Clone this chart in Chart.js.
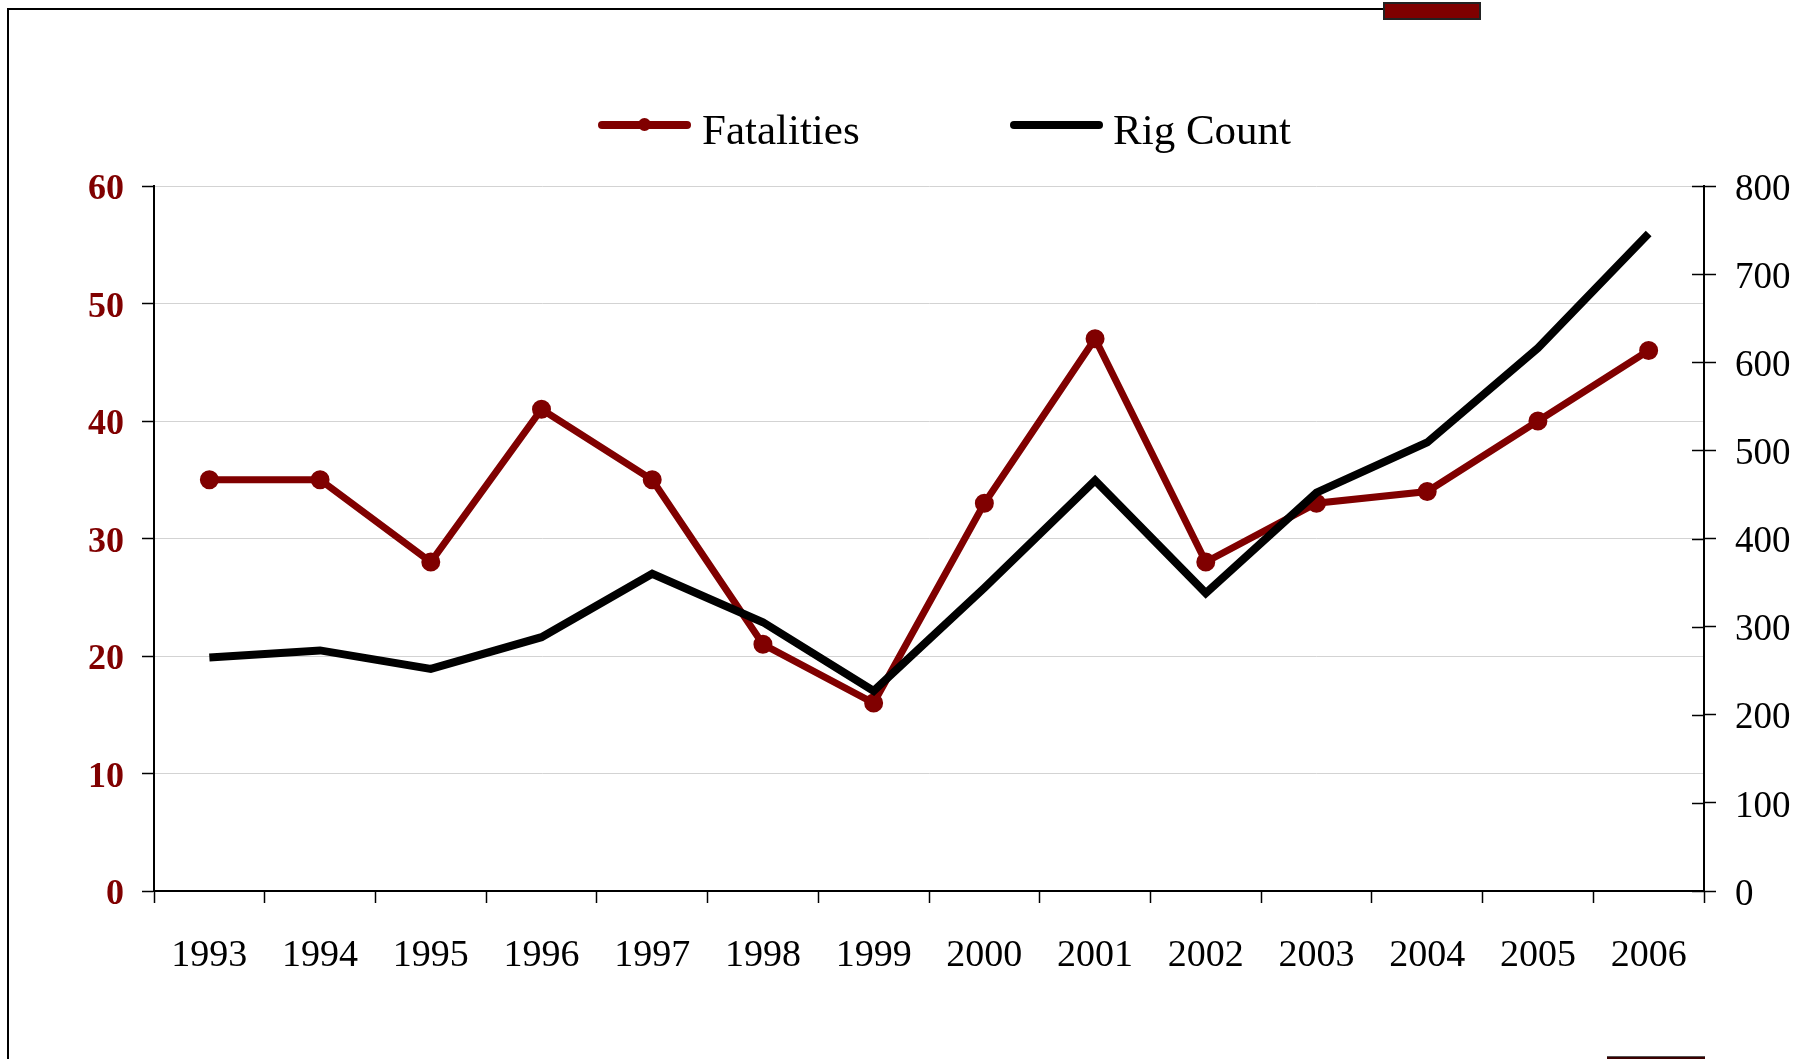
<!DOCTYPE html>
<html>
<head>
<meta charset="utf-8">
<script src="https://cdn.jsdelivr.net/npm/chart.js@4"></script>
<style>
  html, body { margin: 0; padding: 0; background: #fff; }
  #wrap { position: relative; width: 1814px; height: 1059px; overflow: hidden; }
  #frameLeft { position: absolute; left: 7px; top: 8px; width: 2px; height: 1051px; background: #000; }
  #frameTop { position: absolute; left: 7px; top: 8px; width: 1376px; height: 2px; background: #000; }
  #tab { position: absolute; left: 1383px; top: 2px; width: 94px; height: 14px; background: #7f0000; border: 2px solid #222; }
  #tabBottom { position: absolute; left: 1607px; top: 1056px; width: 98px; height: 6px; background: #3a0000; border-top: 1px solid #555; }
  .leg { position: absolute; top: 103px; font-family: "Liberation Serif", serif; font-size: 43px; color: #000; line-height: 54px; }
  .legLine { position: absolute; height: 8px; border-radius: 4px; top: 121px; }
  .legDot { position: absolute; width: 13px; height: 13px; border-radius: 50%; background: #800000; left: 40px; top: -3px; }
  canvas { position: absolute; left: 0; top: 0; }
</style>
</head>
<body>
<div id="wrap">
  <canvas id="chart" width="1814" height="1059"></canvas>
  <div id="frameLeft"></div>
  <div id="frameTop"></div>
  <div id="tab"></div>
  <div id="tabBottom"></div>
  <div class="legLine" style="left:598px; width:93px; background:#800000;"><div class="legDot"></div></div>
  <div class="leg" style="left:702px;">Fatalities</div>
  <div class="legLine" style="left:1010px; width:93px; background:#000;"></div>
  <div class="leg" style="left:1113px;">Rig Count</div>
</div>
<script>
const years = ["1993", "1994", "1995", "1996", "1997", "1998", "1999", "2000", "2001", "2002", "2003", "2004", "2005", "2006"];
const fatalities = [35, 35, 28, 41, 35, 21, 16, 33, 47, 28, 33, 34, 40, 46];
const rigCount = [265, 273, 252, 288, 360, 305, 227, 344, 466, 338, 452, 509, 616, 746];

const darkRed = "#800000";

// right axis ticks cross the axis line, chart.js only draws the outer half
const innerTicks = {
  id: "innerTicks",
  afterDraw(chart) {
    const y2 = chart.scales.y2;
    const ctx = chart.ctx;
    ctx.save();
    ctx.strokeStyle = "#000";
    ctx.lineWidth = 1.5;
    y2.ticks.forEach((t, i) => {
      const py = Math.round(y2.getPixelForTick(i)) + 0.5;
      ctx.beginPath();
      ctx.moveTo(y2.left - 12, py);
      ctx.lineTo(y2.left, py);
      ctx.stroke();
    });
    ctx.restore();
  }
};

const ctx = document.getElementById("chart");
new Chart(ctx, {
  type: "line",
  data: {
    labels: years,
    datasets: [
      {
        label: "Rig Count",
        data: rigCount,
        yAxisID: "y2",
        borderColor: "#000",
        borderWidth: 8,
        pointRadius: 0,
        tension: 0,
        order: 0,
      },
      {
        label: "Fatalities",
        data: fatalities,
        yAxisID: "y",
        borderColor: darkRed,
        backgroundColor: darkRed,
        borderWidth: 7,
        pointRadius: 6,
        pointBackgroundColor: darkRed,
        pointBorderColor: darkRed,
        tension: 0,
        order: 1,
      },
    ],
  },
  options: {
    responsive: false,
    animation: false,
    devicePixelRatio: 1,
    layout: { padding: { top: 186, left: 0, right: 0, bottom: 0 } },
    plugins: {
      legend: { display: false },
      tooltip: { enabled: false },
    },
    scales: {
      x: {
        offset: true,
        afterFit: (s) => { s.height = 168; },
        grid: {
          offset: true,
          drawOnChartArea: false,
          tickLength: 12,
          tickColor: "#000",
          tickWidth: 1.5,
        },
        border: { color: "#000", width: 2 },
        ticks: {
          color: "#000",
          padding: 30,
          maxRotation: 0,
          font: { family: "Liberation Serif", size: 38 },
        },
      },
      y: {
        position: "left",
        min: 0,
        max: 60,
        afterFit: (s) => { s.width = 154; },
        grid: {
          color: "#d3d3d3",
          lineWidth: 1,
          tickLength: 12,
          tickColor: "#000",
          tickWidth: 1.5,
        },
        border: { color: "#000", width: 2 },
        ticks: {
          stepSize: 10,
          color: darkRed,
          padding: 18,
          labelOffset: 4,
          font: { family: "Liberation Serif", size: 36, weight: "bold" },
        },
      },
      y2: {
        position: "right",
        min: 0,
        max: 800,
        afterFit: (s) => { s.width = 110; },
        grid: {
          drawOnChartArea: false,
          tickLength: 12,
          tickColor: "#000",
          tickWidth: 1.5,
        },
        border: { color: "#000", width: 2 },
        ticks: {
          stepSize: 100,
          color: "#000",
          padding: 19,
          labelOffset: 4,
          font: { family: "Liberation Serif", size: 37 },
        },
      },
    },
  },
  plugins: [innerTicks],
});
</script>
</body>
</html>
